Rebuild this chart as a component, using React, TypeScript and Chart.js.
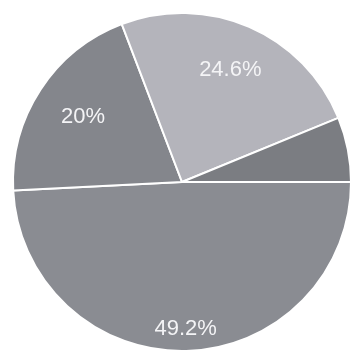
import React, { useEffect, useRef } from "react";
import { Chart, registerables } from "chart.js";

Chart.register(...registerables);

const categories = ["A", "B", "C", "D"];
const values = [49.2, 20, 24.6, 6.2];
const labels = ["49.2%", "20%", "24.6%", ""];
const colors = ["#8a8c92", "#84868c", "#b4b4bb", "#7b7d82"];

const labelRadius = [0.87, 0.7, 0.72, 0.7];

const labelPlugin = {
  id: "sliceLabels",
  afterDatasetsDraw(chart: any) {
    const ctx = chart.ctx;
    const meta = chart.getDatasetMeta(0);
    ctx.save();
    ctx.fillStyle = "#f4f4f6";
    ctx.font = "22px 'Liberation Sans', Arial, sans-serif";
    ctx.textAlign = "center";
    ctx.textBaseline = "middle";
    meta.data.forEach((arc: any, i: number) => {
      const text = labels[i];
      if (!text) return;
      const p = arc.getProps(["x", "y", "startAngle", "endAngle", "outerRadius"], true);
      const mid = (p.startAngle + p.endAngle) / 2;
      const r = p.outerRadius * labelRadius[i];
      ctx.fillText(text, p.x + Math.cos(mid) * r, p.y + Math.sin(mid) * r);
    });
    ctx.restore();
  },
};

export default function App() {
  const ref = useRef<HTMLCanvasElement>(null);
  useEffect(() => {
    if (!ref.current) return;
    const chart = new Chart(ref.current, {
      type: "pie",
      data: {
        labels: categories,
        datasets: [
          {
            data: values,
            backgroundColor: colors,
            borderColor: "#ffffff",
            borderWidth: 2,
          },
        ],
      },
      options: {
        responsive: false,
        animation: false,
        rotation: 90,
        layout: { padding: { left: 12, right: 3, top: 12, bottom: 2 } },
        plugins: { legend: { display: false }, tooltip: { enabled: false } },
      },
      plugins: [labelPlugin],
    });
    return () => chart.destroy();
  }, []);
  return (
    <div style={{ position: "fixed", left: 0, top: 0, width: 355, height: 354, background: "#fff" }}>
      <canvas ref={ref} width={355} height={354} style={{ display: "block" }} />
    </div>
  );
}
